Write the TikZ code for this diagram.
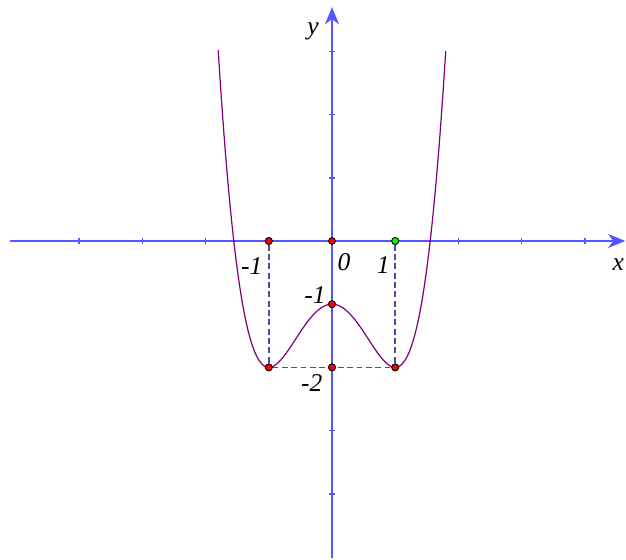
\documentclass[tikz,border=0pt]{standalone}
\usepackage{fontspec}
\setmainfont{Liberation Serif}
\usetikzlibrary{arrows.meta}
\definecolor{axisblue}{RGB}{85,85,255}
\definecolor{curvepurple}{RGB}{128,0,128}
\definecolor{dashblue}{RGB}{75,75,170}
\tikzset{
    axis/.style={axisblue, line width=1pt, -{Stealth[length=0.27cm, width=0.22cm, inset=0.08cm]}},
    pt/.style={circle, draw=black, fill=red, line width=0.35pt, inner sep=0pt, minimum size=0.11cm},
    guide/.style={dashblue, line width=0.7pt, dash pattern=on 2.6pt off 1.6pt},
    lbl/.style={font=\fontsize{11.5}{13}\selectfont\itshape}
}
\begin{document}
\begin{tikzpicture}
    \useasboundingbox (-5.253,-5.032) rectangle (4.652,3.813);

    % Axes
    \draw[axis] (-5.095,0) -- (4.64,0);
    \draw[axis] (0,-5.02) -- (0,3.7);
    \foreach \t in {-4,-3,-2,2,3,4} {
        \draw[axisblue, line width=0.7pt] (\t,-0.045) -- (\t,0.045);
    }
    \foreach \t in {-4,-3,1,2,3} {
        \draw[axisblue, line width=0.7pt] (-0.045,\t) -- (0.045,\t);
    }

    % Points
    \coordinate (O) at (0,0);
    \node[pt] (a) at (-1,0) {};
    \node[pt, fill=green] (b) at (1,0) {};
    \node[pt] (c) at (0,-1) {};
    \node[pt] (d) at (-1,-2) {};
    \node[pt] (e) at (0,-2) {};
    \node[pt] (f) at (1,-2) {};

    % Dashed guides
    \draw[guide] (a) -- (d);
    \draw[guide] (b) -- (f);
    \draw[guide] (d) -- (f);

    % Curve
    \draw[curvepurple, line width=0.55pt, smooth, samples=150, domain=-1.8:1.8]
        plot (\x, {\x*\x*\x*\x - 2*\x*\x - 1});

    % redraw points on top
    \node[pt] at (a) {};
    \node[pt, fill=green] at (b) {};
    \node[pt] at (O) {};
    \node[pt] at (c) {};
    \node[pt] at (d) {};
    \node[pt] at (e) {};
    \node[pt] at (f) {};

    % Labels
    \node[lbl] (xl) at (4.53,-0.38) {x};
    \node[lbl] (yl) at (-0.30,3.31) {y};
    \node[lbl] (l0) at (0.19,-0.33) {0};
    \node[lbl] (lm1) at (-1.27,-0.4) {-1};
    \node[lbl] (l1) at (0.81,-0.38) {1};
    \node[lbl] (ym1) at (-0.27,-0.85) {-1};
    \node[lbl] (ym2) at (-0.32,-2.25) {-2};
\end{tikzpicture}
\end{document}
